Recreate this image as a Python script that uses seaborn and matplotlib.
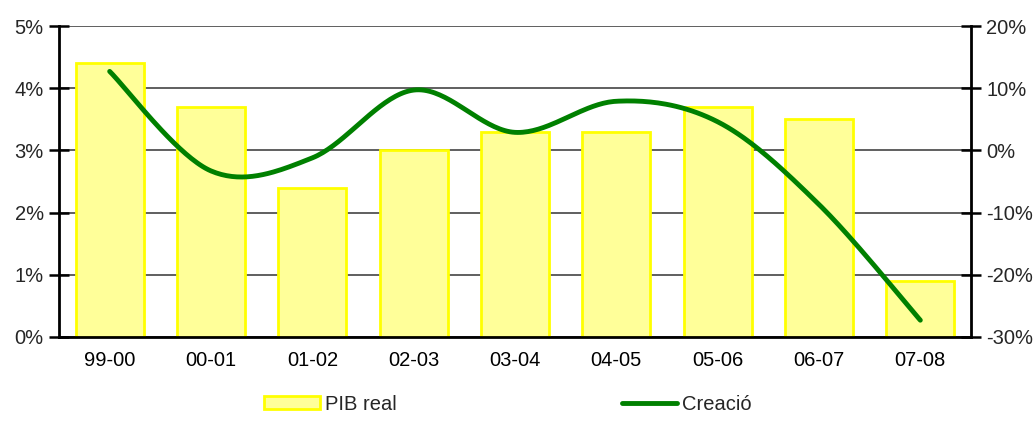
import numpy as np
import pandas as pd
import matplotlib
matplotlib.use("Agg")
import matplotlib.pyplot as plt
import seaborn as sns
from matplotlib.ticker import FuncFormatter, FixedLocator
from matplotlib.patches import Patch
from matplotlib.lines import Line2D

periods = ["99-00", "00-01", "01-02", "02-03", "03-04", "04-05", "05-06", "06-07", "07-08"]
pib_real = [4.4, 3.7, 2.4, 3.0, 3.3, 3.3, 3.7, 3.5, 0.9]
creacio = [12.7, -3.3, -1.2, 9.7, 2.9, 7.9, 4.6, -8.7, -27.3]

sns.set_theme(style="white")
plt.rcParams["font.family"] = ["Liberation Sans", "DejaVu Sans"]
FS = 14.5

fig = plt.figure(figsize=(10.36, 4.30), dpi=100)
ax = fig.add_axes([59 / 1036, 1 - 337 / 430, 912 / 1036, 311 / 430])

df = pd.DataFrame({"periode": periods, "pib": pib_real})
sns.barplot(data=df, x="periode", y="pib", ax=ax, color="#FFFF99",
            edgecolor="#FFFF00", linewidth=2, width=0.67, saturation=1, zorder=2)

ax.set_xlim(-0.5, len(periods) - 0.5)
ax.set_ylim(0, 5)
ax.set_yticks(range(0, 6))
ax.yaxis.set_major_formatter(FuncFormatter(lambda v, p: f"{v:.0f}%"))
ax.yaxis.grid(True, color="#444444", linewidth=1.2, zorder=0)
ax.set_axisbelow(True)
ax.set_xlabel("")
ax.set_ylabel("")

# category boundaries carry the x tick marks, labels sit at the centres
ax.tick_params(axis="x", which="major", length=0, pad=10, labelsize=FS, colors="black")
ax.xaxis.set_minor_locator(FixedLocator(np.arange(0.5, len(periods) - 0.5, 1)))
ax.tick_params(axis="x", which="minor", direction="inout", length=14, width=1.8, color="black")
ax.tick_params(axis="y", direction="inout", length=14, width=1.8, color="black",
               labelsize=FS, pad=4)

for side in ("top", "right"):
    ax.spines[side].set_visible(False)
for side in ("left", "bottom"):
    ax.spines[side].set_color("black")
    ax.spines[side].set_linewidth(2)

# secondary axis for the job-creation line
ax2 = ax.twinx()
ax2.set_ylim(-30, 20)
ax2.set_yticks(range(-30, 21, 10))
ax2.yaxis.set_major_formatter(FuncFormatter(lambda v, p: f"{v:.0f}%"))
ax2.tick_params(axis="y", direction="inout", length=14, width=1.8, color="black",
                labelsize=FS, pad=4)
ax2.grid(False)
for side in ("top", "left", "bottom"):
    ax2.spines[side].set_visible(False)
ax2.spines["right"].set_color("black")
ax2.spines["right"].set_linewidth(2)

# smoothed line through the points (Catmull-Rom style Bezier segments)
x = np.arange(len(creacio), dtype=float)
y = np.asarray(creacio, dtype=float)
px = np.concatenate([[x[0]], x, [x[-1]]])
py = np.concatenate([[y[0]], y, [y[-1]]])
cx, cy = [], []
t = np.linspace(0, 1, 40)
for i in range(1, len(px) - 2):
    p0 = np.array([px[i], py[i]])
    p3 = np.array([px[i + 1], py[i + 1]])
    p1 = p0 + (np.array([px[i + 1], py[i + 1]]) - np.array([px[i - 1], py[i - 1]])) / 6
    p2 = p3 - (np.array([px[i + 2], py[i + 2]]) - np.array([px[i], py[i]])) / 6
    b = ((1 - t) ** 3)[:, None] * p0 + (3 * (1 - t) ** 2 * t)[:, None] * p1 \
        + (3 * (1 - t) * t ** 2)[:, None] * p2 + (t ** 3)[:, None] * p3
    cx.extend(b[:, 0])
    cy.extend(b[:, 1])
ax2.plot(cx, cy, color="#008000", linewidth=3.5, solid_capstyle="round", zorder=3)

handles = [Patch(facecolor="#FFFF99", edgecolor="#FFFF00", linewidth=2),
           Line2D([0], [0], color="#008000", linewidth=3.5, solid_capstyle="round")]
fig.legend(handles, ["PIB real", "Creació"], loc="center", bbox_to_anchor=(508 / 1036, 1 - 404 / 430),
           ncol=2, frameon=False, fontsize=FS, handlelength=2.75, handleheight=0.6,
           handletextpad=0.25, columnspacing=11.2, borderaxespad=0)

fig.savefig("out.png", dpi=100)
